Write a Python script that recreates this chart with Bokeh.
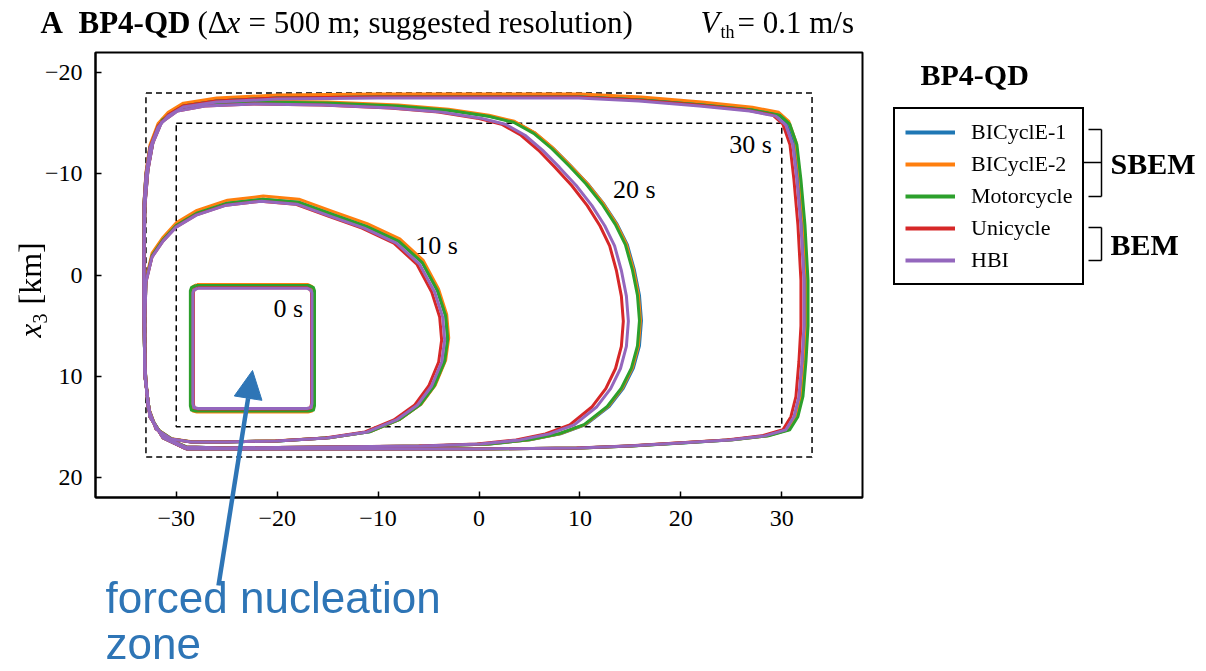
import numpy as np
from bokeh.plotting import figure
from bokeh.models import Range1d, FixedTicker, Arrow, NormalHead, Legend, LegendItem
from bokeh.embed import file_html
from bokeh.resources import INLINE
from bokeh.core.properties import value

# ---------------- data ----------------
models = ["BICyclE-1", "BICyclE-2", "Motorcycle", "Unicycle", "HBI"]
colors = ["#1f77b4", "#ff7f0e", "#2ca02c", "#d62728", "#9467bd"]
time_labels = ["0 s", "10 s", "20 s", "30 s"]
label_x = [-18.9, -4.2, 15.4, 26.9]
label_y = [3.3, -2.9, -8.5, -12.9]

# rupture-front contours (x1 km, x3 km), reference shape
front_0s_x = [-27.9, -17.0, -16.6, -16.5, -16.5, -16.6, -17.0, -27.9, -28.3, -28.4, -28.4, -28.3, -27.9]
front_0s_y = [1.1, 1.1, 1.3, 1.6, 12.9, 13.3, 13.4, 13.4, 13.3, 12.9, 1.6, 1.3, 1.1]

front_10s_x = [-30.5, -32.0, -32.8, -33.1, -33.1, -33.0, -32.4, -31.3, -30.0, -28.0, -25.0, -21.5, -18.0,
               -14.7, -11.3, -8.1, -5.8, -4.3, -3.5, -3.3, -3.6, -4.6, -6.0, -8.1, -11.0, -15.0, -20.0,
               -25.0, -28.5, -30.5]
front_10s_y = [16.2, 15.2, 13.0, 9.0, 4.0, 0.5, -2.0, -3.6, -5.0, -6.2, -7.2, -7.6, -7.3,
               -6.1, -4.9, -3.4, -1.3, 1.5, 4.0, 6.3, 8.5, 10.9, 12.8, 14.3, 15.5, 16.1, 16.4,
               16.5, 16.5, 16.2]

front_20s_x = [-29.0, -31.3, -32.6, -33.1, -33.2, -33.2, -33.1, -32.8, -32.3, -31.4, -29.8, -27.0, -22.0,
               -15.0, -8.0, -3.0, 1.0, 3.5, 5.5, 7.3, 9.0, 10.7, 12.3, 13.6, 14.6, 15.3, 15.8, 16.0,
               15.8, 15.2, 14.2, 12.8, 10.5, 8.0, 5.0, 1.0, -5.0, -15.0, -25.0, -29.0]
front_20s_y = [17.0, 16.0, 14.0, 10.0, 4.0, -2.0, -7.0, -10.5, -13.2, -15.3, -16.4, -16.9, -17.1,
               -17.0, -16.7, -16.3, -15.7, -15.1, -14.0, -12.5, -10.8, -9.0, -7.0, -5.0, -3.0, -0.5, 2.0, 4.5,
               7.0, 9.2, 11.2, 13.0, 14.8, 15.7, 16.3, 16.7, 16.9, 17.0, 17.1, 17.0]

front_30s_x = [-29.0, -31.3, -32.6, -33.1, -33.2, -33.2, -33.2, -33.0, -32.6, -31.8, -30.8, -29.3, -26.0,
               -20.0, -10.0, 0.0, 10.0, 16.0, 22.0, 27.0, 29.6, 30.6, 31.3, 31.7, 32.1, 32.4, 32.4,
               32.2, 31.9, 31.4, 30.6, 28.5, 25.0, 20.0, 15.0, 10.0, 0.0, -10.0, -20.0, -29.0]
front_30s_y = [17.2, 16.1, 14.0, 10.0, 4.0, -2.0, -7.0, -10.0, -12.7, -14.8, -15.9, -16.8, -17.3,
               -17.6, -17.7, -17.7, -17.7, -17.4, -16.9, -16.4, -15.9, -15.0, -13.0, -9.5, -5.0, 0.5, 5.0,
               8.5, 12.0, 14.0, 15.3, 15.9, 16.3, 16.6, 16.9, 17.1, 17.2, 17.2, 17.2, 17.2]

fronts_x = [front_0s_x, front_10s_x, front_20s_x, front_30s_x]
fronts_y = [front_0s_y, front_10s_y, front_20s_y, front_30s_y]

# fixed corner of each front (nucleation centre / barrier corner)
anchor_x = [-22.45, -33.0, -33.0, -33.0]
anchor_y = [7.25, 17.0, 17.0, 17.0]
base_right = [-16.5, -3.3, 16.0, 32.4]
base_top = [1.1, -7.6, -17.1, -17.7]

# per-code front extents (right-most x1, top-most x3)
model_right = {
    "BICyclE-1": [-16.45, -3.1, 16.1, 32.4],
    "BICyclE-2": [-16.45, -3.0, 16.0, 32.5],
    "Motorcycle": [-16.3, -3.1, 15.9, 32.6],
    "Unicycle": [-16.6, -3.7, 14.3, 31.9],
    "HBI": [-16.55, -3.4, 14.8, 32.2],
}
model_top = {
    "BICyclE-1": [1.1, -7.5, -17.1, -17.7],
    "BICyclE-2": [0.95, -7.8, -17.2, -17.9],
    "Motorcycle": [1.05, -7.5, -17.1, -17.6],
    "Unicycle": [1.25, -7.3, -16.9, -17.6],
    "HBI": [1.3, -7.3, -16.9, -17.5],
}

outer_box_x = [-33, 33, 33, -33, -33]
outer_box_y = [-18, -18, 18, 18, -18]
inner_box_x = [-30, 30, 30, -30, -30]
inner_box_y = [-15, -15, 15, 15, -15]

x_ticks = [-30, -20, -10, 0, 10, 20, 30]
y_ticks = [-20, -10, 0, 10, 20]

# ---------------- figure geometry (page pixels) ----------------
W, H = 1200, 670
FL, FR, FT, FB = 95, 862, 52, 497
SERIF = "Liberation Serif"
BLUE = "#2E75B6"

p = figure(width=W, height=H,
           x_range=Range1d(-38, 38), y_range=Range1d(22, -22),
           output_backend="svg", toolbar_location=None,
           min_border_left=FL, min_border_right=W - FR, min_border_top=FT, min_border_bottom=H - FB)
p.title.text = ""
p.grid.visible = False
p.outline_line_color = "black"
p.outline_line_width = 2
p.background_fill_color = "white"
p.border_fill_color = "white"

p.xaxis.ticker = FixedTicker(ticks=x_ticks)
p.yaxis.ticker = FixedTicker(ticks=y_ticks)
p.xaxis.major_label_overrides = {t: (str(t) if t >= 0 else "\u2212" + str(-t)) for t in x_ticks}
p.yaxis.major_label_overrides = {t: (str(t) if t >= 0 else "\u2212" + str(-t)) for t in y_ticks}
for ax in (p.xaxis[0], p.yaxis[0]):
    ax.axis_line_color = "black"
    ax.axis_line_width = 2
    ax.major_tick_in = 6
    ax.major_tick_out = 0
    ax.major_tick_line_width = 1.5
    ax.major_tick_line_color = "black"
    ax.minor_tick_line_color = None
    ax.major_label_text_font = SERIF
    ax.major_label_text_font_size = "24px"
    ax.major_label_text_color = "black"
p.xaxis.major_label_standoff = 13
p.yaxis.major_label_standoff = 13

# dashed fault boxes
p.line(outer_box_x, outer_box_y, line_color="black", line_width=1.5, line_dash="6 4")
p.line(inner_box_x, inner_box_y, line_color="black", line_width=1.5, line_dash="6 4")

# rupture fronts
for m, c in zip(models, colors):
    xs, ys = [], []
    for k in range(4):
        bx = np.array(fronts_x[k])
        by = np.array(fronts_y[k])
        sx = (model_right[m][k] - anchor_x[k]) / (base_right[k] - anchor_x[k])
        sy = (model_top[m][k] - anchor_y[k]) / (base_top[k] - anchor_y[k])
        xs.append(list(anchor_x[k] + (bx - anchor_x[k]) * sx))
        ys.append(list(anchor_y[k] + (by - anchor_y[k]) * sy))
    p.multi_line(xs, ys, line_color=c, line_width=3, line_join="round")

p.text(x=label_x, y=label_y, text=time_labels, text_font=value(SERIF), text_font_size="26px",
       text_align="center", text_baseline="middle", text_color="black")

# ---------------- overlay canvas (page-pixel coordinates) for texts outside the axes ----------------
q = figure(width=W, height=H, x_range=Range1d(0, W), y_range=Range1d(H, 0),
           output_backend="svg", toolbar_location=None, title=None,
           x_axis_location=None, y_axis_location=None,
           min_border=0, min_border_left=0, min_border_right=0, min_border_top=0, min_border_bottom=0,
           styles={"position": "fixed", "left": "0px", "top": "0px"})
q.grid.visible = False
q.outline_line_color = None
q.background_fill_alpha = 0
q.border_fill_alpha = 0

K = 0.37  # baseline -> middle offset (fraction of font size)


def txt(x, y, s, size, style="normal", font=SERIF, color="black", rotated=False):
    px = float(size.replace("px", ""))
    if rotated:
        x0, y0, ang = x - K * px, y, np.pi / 2
    else:
        x0, y0, ang = x, y - K * px, 0.0
    q.text(x=[x0], y=[y0], text=[s], text_font=value(font), text_font_size=value(size),
           text_font_style=value(style), text_color=color, angle=ang,
           text_align="left", text_baseline="middle")


# title line
txt(40, 33, "A", "31px", "bold")
txt(78, 33, "BP4-QD", "31px", "bold")
txt(197, 33, "(\u0394", "31px")
txt(226, 33, "x", "31px", "italic")
txt(248, 33, "= 500 m; suggested resolution)", "31px")
txt(700, 33, "V", "31px", "italic")
txt(720, 38, "th", "18px")
txt(737, 33, "= 0.1 m/s", "31px")

# y axis label (rotated)
txt(41, 337, "x", "31px", "italic", rotated=True)
txt(47, 323, "3", "20px", rotated=True)
txt(41, 304, "[km]", "32px", rotated=True)

# legend (off-canvas stub glyphs carry the series styles)
items = []
for m, c in zip(models, colors):
    r = q.line(x=[-60, -50], y=[-60, -60], line_color=c, line_width=4)
    items.append(LegendItem(label=m, renderers=[r]))
legend = Legend(items=items, location=(893, H - 285), orientation="vertical",
                border_line_color="black", border_line_width=2, border_line_alpha=1,
                background_fill_color="white", background_fill_alpha=1,
                padding=10, spacing=6, margin=0,
                glyph_width=50, glyph_height=22, label_height=22, label_standoff=16,
                label_text_font=SERIF, label_text_font_size="22px", label_text_color="black")
q.add_layout(legend, "center")

txt(920, 85, "BP4-QD", "30px", "bold")
txt(1110, 174, "SBEM", "30px", "bold")
txt(1110, 255, "BEM", "30px", "bold")

bx0 = [1088, 1101, 1088, 1083, 1088, 1101, 1088]
by0 = [129, 129, 196, 162, 227, 227, 260]
bx1 = [1101, 1101, 1101, 1101, 1101, 1101, 1101]
by1 = [129, 196, 196, 162, 227, 260, 260]
q.segment(x0=bx0, y0=by0, x1=bx1, y1=by1, line_color="black", line_width=1.5)

# annotation
q.add_layout(Arrow(x_start=218, y_start=585, x_end=252, y_end=370,
                   line_color=BLUE, line_width=4.5,
                   end=NormalHead(size=28, fill_color=BLUE, line_color=BLUE)))
txt(105, 613, "forced nucleation", "44px", font="Liberation Sans", color=BLUE)
txt(105, 659, "zone", "44px", font="Liberation Sans", color=BLUE)

open("out.html", "w").write(file_html([p, q], INLINE))
